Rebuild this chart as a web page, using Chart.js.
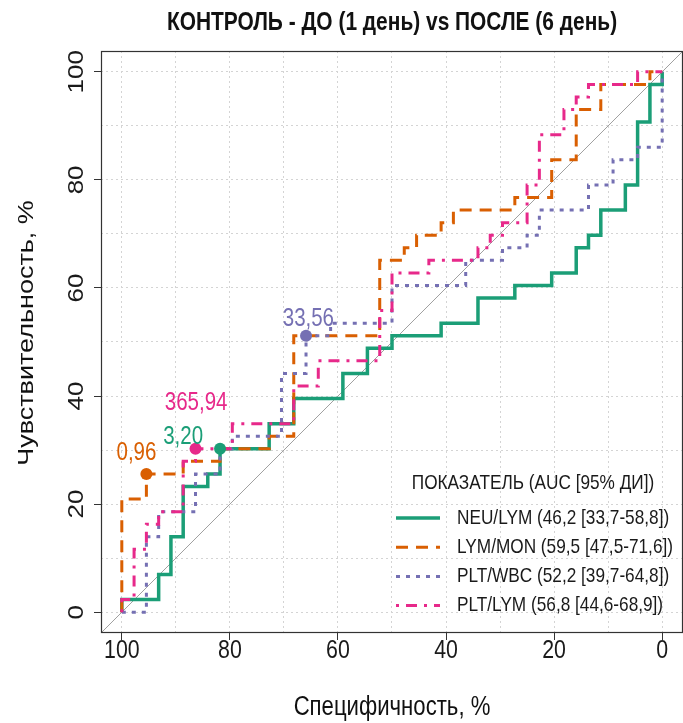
<!DOCTYPE html>
<html>
<head>
<meta charset="utf-8">
<script src="https://cdn.jsdelivr.net/npm/chart.js@4.4.1/dist/chart.umd.min.js"></script>
<style>
html, body { margin: 0; padding: 0; background: #fff; }
#wrap { width: 683px; height: 723px; }
</style>
</head>
<body>
<div id="wrap"><canvas id="roc"></canvas></div>
<script>
// ROC curves: specificity (%) / sensitivity (%) at the top of every vertical step
const neuSpec = [100, 100, 93.18, 90.91, 88.64, 84.09, 81.82, 72.73, 68.18, 59.09, 54.55, 50, 40.91, 34.09, 27.27, 20.45, 15.91, 13.64, 11.36, 6.82, 4.55, 2.27, 0];
const neuSens = [0, 2.33, 6.98, 13.95, 23.26, 25.58, 30.23, 34.88, 39.53, 44.19, 48.84, 51.16, 53.49, 58.14, 60.47, 62.79, 67.44, 69.77, 74.42, 79.07, 90.7, 97.67, 100];

const lymMonSpec = [100, 100, 95.45, 88.64, 81.82, 72.73, 68.18, 52.27, 47.73, 45.45, 40.91, 38.64, 27.27, 20.45, 15.91, 11.36, 2.27, 0];
const lymMonSens = [0, 20.93, 25.58, 27.91, 30.23, 32.56, 51.16, 65.12, 67.44, 69.77, 72.09, 74.42, 76.74, 83.72, 93.02, 97.67, 100, 100];

const pltWbcSpec = [100, 95.45, 93.18, 86.36, 81.82, 79.55, 70.45, 65.91, 61.36, 50, 36.36, 29.55, 25, 22.73, 13.64, 9.09, 4.55, 0];
const pltWbcSens = [0, 13.95, 18.6, 25.58, 30.23, 32.56, 44.19, 51.16, 53.49, 60.47, 65.12, 67.44, 69.77, 74.42, 79.07, 83.72, 86.05, 100];

const pltLymSpec = [100, 100, 97.73, 95.45, 93.18, 88.64, 86.36, 79.55, 68.18, 63.64, 52.27, 50, 43.18, 34.09, 31.82, 29.55, 25, 22.73, 18.18, 15.91, 13.64, 4.55, 0];
const pltLymSens = [0, 2.33, 11.63, 16.28, 18.6, 27.91, 30.23, 34.88, 41.86, 46.51, 55.81, 62.79, 65.12, 67.44, 69.77, 72.09, 79.07, 88.37, 93.02, 95.35, 97.67, 100, 100];

const seriesNames = ['NEU/LYM (46,2 [33,7-58,8])', 'LYM/MON (59,5 [47,5-71,6])', 'PLT/WBC (52,2 [39,7-64,8])', 'PLT/LYM (56,8 [44,6-68,9])'];

// best thresholds
const thrSpec = [81.82, 95.45, 65.91, 86.36];
const thrSens = [30.23, 25.58, 51.16, 30.23];
const thrLabels = ['3,20', '0,96', '33,56', '365,94'];

const gridValues = [0, 10, 20, 30, 40, 50, 60, 70, 80, 90, 100];
const majorValues = [0, 20, 40, 60, 80, 100];
const axisMin = -3.85, axisMax = 103.85;

const titleText = 'КОНТРОЛЬ - ДО (1 день) vs ПОСЛЕ (6 день)';
const xTitle = 'Специфичность, %';
const yTitle = 'Чувствительность, %';
const legendTitle = 'ПОКАЗАТЕЛЬ (AUC [95% ДИ])';

const FONT = '"Liberation Sans", Arial, sans-serif';
const SQUEEZE = 0.82; // the picture is horizontally compressed
const colors = ['#1B9E77', '#D95F02', '#7570B3', '#E7298A'];
const dashes = [[], [12, 8], [4, 6], [3, 7, 11, 7]];
const widths = [3.5, 3, 3, 3];

const toXY = (xs, ys) => xs.map((x, i) => ({x: x, y: ys[i]}));
const curves = [[neuSpec, neuSens], [lymMonSpec, lymMonSens], [pltWbcSpec, pltWbcSens], [pltLymSpec, pltLymSens]];

const datasets = curves.map((c, i) => ({
    label: seriesNames[i],
    data: toXY(c[0], c[1]),
    showLine: true,
    stepped: 'before',
    borderColor: colors[i],
    borderWidth: widths[i],
    borderDash: dashes[i],
    borderCapStyle: 'butt',
    borderJoinStyle: 'miter',
    pointRadius: 0,
    fill: false,
    order: 4 - i
}));

// reference diagonal
datasets.push({
    label: 'diag',
    data: [axisMin, axisMax].map(v => ({x: v, y: 100 - v})),
    showLine: true,
    borderColor: '#a0a0a0',
    borderWidth: 1,
    pointRadius: 0,
    order: 10
});

// threshold points
datasets.push({
    label: 'thr',
    data: toXY(thrSpec, thrSens),
    showLine: false,
    pointRadius: 6,
    pointBorderWidth: 0,
    pointBackgroundColor: colors,
    order: 0
});

const labelShift = [[-17, -5], [10, -14], [28, -10], [32, -39]];

function narrowText(ctx, text, x, y) {
    ctx.save();
    ctx.translate(x, y);
    ctx.scale(SQUEEZE, 1);
    ctx.fillText(text, 0, 0);
    ctx.restore();
}

function upText(ctx, text, x, y) {
    ctx.save();
    ctx.translate(x, y);
    ctx.scale(SQUEEZE, 1);
    ctx.rotate(-Math.PI / 2);
    ctx.fillText(text, 0, 0);
    ctx.restore();
}

const overlay = {
    id: 'overlay',
    afterDatasetsDraw(chart) {
        const {ctx, chartArea: a} = chart;
        const xs = chart.scales.x, ys = chart.scales.y;
        ctx.save();

        // panel frame
        ctx.strokeStyle = '#333';
        ctx.lineWidth = 1.2;
        ctx.strokeRect(a.left + 0.5, a.top + 0.5, a.right - a.left - 1, a.bottom - a.top - 1);

        // threshold labels
        const pts = chart.getDatasetMeta(datasets.length - 1).data;
        ctx.font = '25px ' + FONT;
        ctx.textAlign = 'right';
        ctx.textBaseline = 'alphabetic';
        pts.forEach((p, i) => {
            ctx.fillStyle = colors[i];
            narrowText(ctx, thrLabels[i], p.x + labelShift[i][0], p.y + labelShift[i][1]);
        });

        // legend
        ctx.fillStyle = '#1a1a1a';
        ctx.textAlign = 'center';
        ctx.textBaseline = 'middle';
        ctx.font = '21px ' + FONT;
        narrowText(ctx, legendTitle, a.right - 150, a.bottom - 150);
        ctx.textAlign = 'left';
        seriesNames.forEach((name, i) => {
            const y = a.bottom - 115 + i * 29.2;
            ctx.strokeStyle = colors[i];
            ctx.lineWidth = widths[i];
            ctx.setLineDash(dashes[i]);
            ctx.beginPath();
            ctx.moveTo(a.right - 287, y);
            ctx.lineTo(a.right - 243, y);
            ctx.stroke();
            ctx.setLineDash([]);
            ctx.fillStyle = '#1a1a1a';
            narrowText(ctx, name, a.right - 226, y);
        });

        // tick labels
        ctx.fillStyle = '#1a1a1a';
        ctx.font = '26px ' + FONT;
        ctx.textAlign = 'center';
        ctx.textBaseline = 'middle';
        majorValues.forEach(v => {
            narrowText(ctx, String(v), xs.getPixelForValue(v), a.bottom + 18);
            upText(ctx, String(v), a.left - 24, ys.getPixelForValue(v));
        });

        // titles
        ctx.fillStyle = '#111';
        ctx.font = '27px ' + FONT;
        narrowText(ctx, xTitle, (a.left + a.right) / 2, a.bottom + 75);
        upText(ctx, yTitle, 27, (a.top + a.bottom) / 2 - 9);
        ctx.font = 'bold 25.5px ' + FONT;
        narrowText(ctx, titleText, (a.left + a.right) / 2, 23);
        ctx.restore();
    }
};

const gridOpts = {
    color: '#d4d4d4',
    lineWidth: 1,
    tickLength: 7,
    tickWidth: 1,
    tickColor: c => (c.tick && c.tick.value % 20 === 0) ? '#333' : 'rgba(0,0,0,0)'
};
const setTicks = s => { s.ticks = gridValues.map(v => ({value: v})); };

new Chart(document.getElementById('roc').getContext('2d'), {
    type: 'scatter',
    data: {datasets: datasets},
    options: {
        responsive: true,
        maintainAspectRatio: false,
        animation: false,
        layout: {autoPadding: false, padding: {top: 51, right: 0, bottom: 0, left: 0}},
        plugins: {
            legend: {display: false},
            tooltip: {enabled: false},
            title: {display: false}
        },
        scales: {
            x: {
                type: 'linear',
                reverse: true,
                min: axisMin,
                max: axisMax,
                afterBuildTicks: setTicks,
                afterFit: s => { s.height = 90; s.paddingLeft = 0; s.paddingRight = 0; },
                ticks: {display: false},
                grid: gridOpts,
                border: {display: false, dash: [2, 3]}
            },
            y: {
                type: 'linear',
                min: axisMin,
                max: axisMax,
                afterBuildTicks: setTicks,
                afterFit: s => { s.width = 101; s.paddingTop = 0; s.paddingBottom = 0; },
                ticks: {display: false},
                grid: gridOpts,
                border: {display: false, dash: [2, 3]}
            }
        }
    },
    plugins: [overlay]
});
</script>
</body>
</html>
